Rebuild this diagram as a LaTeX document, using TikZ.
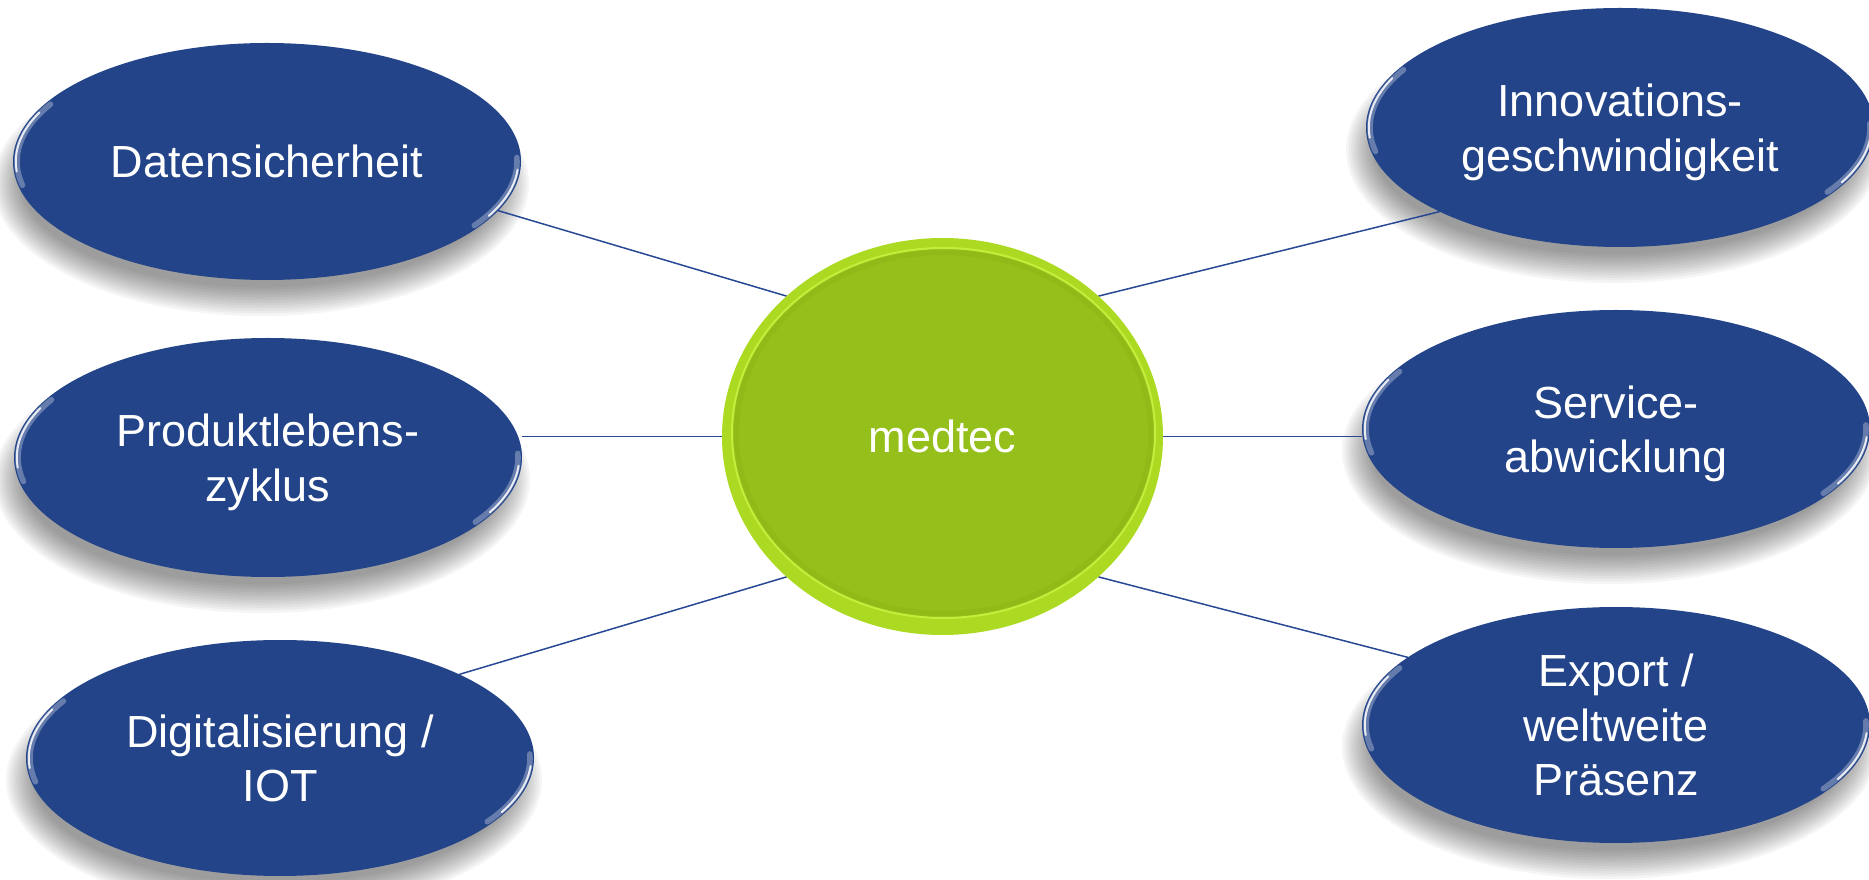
\documentclass[tikz,border=0pt]{standalone}
\usepackage{fontspec}
\setmainfont{Liberation Sans}
\usetikzlibrary{shapes.geometric,calc}
\definecolor{nodeblue}{RGB}{35,68,137}
\definecolor{linkblue}{RGB}{40,72,150}
\definecolor{limeface}{RGB}{149,191,26}
\definecolor{limerim}{RGB}{172,218,34}
\definecolor{limeedge}{RGB}{196,238,60}
\pgfdeclarelayer{shadowlayer}
\pgfdeclarelayer{linklayer}
\pgfsetlayers{shadowlayer,linklayer,main}
\newcommand\ovalshadow[4]{%
  \foreach \k in {0,...,11}{%
    \fill[black,opacity=0.04] (#1-6,#2-22) ellipse [x radius={#3+14-2.6*\k}, y radius={#4+14-2.6*\k}];}}
\tikzset{
  bevel/.style={path picture={
    \draw[white,opacity=0.3,line width=2.8pt,line cap=round]
      let \p1=(path picture bounding box.north east), \p2=(path picture bounding box.center),
          \n1={\x1-\x2-2pt}, \n2={\y1-\y2-2pt} in
      (\p2) ++(150:\n1 and \n2) arc[start angle=150,end angle=192,x radius=\n1,y radius=\n2]
      (\p2) ++(-34:\n1 and \n2) arc[start angle=-34,end angle=2,x radius=\n1,y radius=\n2];
    \draw[white,opacity=0.85,line width=1pt,line cap=round]
      let \p1=(path picture bounding box.north east), \p2=(path picture bounding box.center),
          \n1={\x1-\x2-1.4pt}, \n2={\y1-\y2-1.4pt} in
      (\p2) ++(155:\n1 and \n2) arc[start angle=155,end angle=185,x radius=\n1,y radius=\n2]
      (\p2) ++(-28:\n1 and \n2) arc[start angle=-28,end angle=-4,x radius=\n1,y radius=\n2];
  }},
  oval/.style={ellipse, fill=nodeblue, inner sep=0pt, outer sep=0pt,
    text=white, align=center, minimum width=254pt, text depth=0pt,
    font=\fontsize{22.5pt}{27.25pt}\selectfont, bevel},
  hub/.style={ellipse, fill=limerim, inner sep=0pt, outer sep=0pt, text=white,
    font=\fontsize{22.5pt}{27.25pt}\selectfont,
    minimum width=220.5pt, minimum height=198.5pt,
    path picture={
      \fill[limeface, draw=limeedge, line width=1pt]
        ([shift={(0.5pt,1.75pt)}]path picture bounding box.center)
        ellipse [x radius=105.75pt, y radius=92.5pt];
      \draw[limeface!88!black, opacity=0.18, line width=2.5pt]
        ([shift={(0.5pt,1.75pt)}]path picture bounding box.center)
        ellipse [x radius=103.5pt, y radius=90.2pt];}},
  link/.style={draw=linkblue, line width=0.75pt}
}
\begin{document}
\begin{tikzpicture}[x=0.5pt,y=0.5pt]
\useasboundingbox (0,0) rectangle (1869,879);
% nodes
\node[hub] (m) at (942.5,442.5) {medtec};
\node[oval, minimum height=118.5pt] (d) at (267,717.5) {Datensicherheit};
\node[oval, minimum height=119.5pt] (p) at (268,421.5) {Produktlebens-\\zyklus};
\node[oval, minimum height=118pt] (g) at (280,121) {Digitalisierung /\\IOT};
\node[oval, minimum height=119.5pt] (i) at (1620,751.5) {Innovations-\\geschwindigkeit};
\node[oval, minimum height=119pt] (s) at (1616,450) {Service-\\abwicklung};
\node[oval, minimum height=118pt] (e) at (1616,154) {Export /\\weltweite\\Präsenz};
% soft shadows
\begin{pgfonlayer}{shadowlayer}
\ovalshadow{267}{717.5}{254}{118.5}
\ovalshadow{268}{421.5}{254}{119.5}
\ovalshadow{280}{121}{254}{118}
\ovalshadow{1620}{751.5}{254}{119.5}
\ovalshadow{1616}{450}{254}{119}
\ovalshadow{1616}{154}{254}{118}
\end{pgfonlayer}
% connectors
\begin{pgfonlayer}{linklayer}
\draw[link] (d.-12) -- (m.138);
\draw[link] (p.east |- m.west) -- (m.west);
\draw[link] (g.25) -- (m.222);
\draw[link] (i.205) -- (m.42);
\draw[link] (m.east) -- (s.west |- m.east);
\draw[link] (e.162.4) -- (m.318);
\end{pgfonlayer}
\end{tikzpicture}
\end{document}
